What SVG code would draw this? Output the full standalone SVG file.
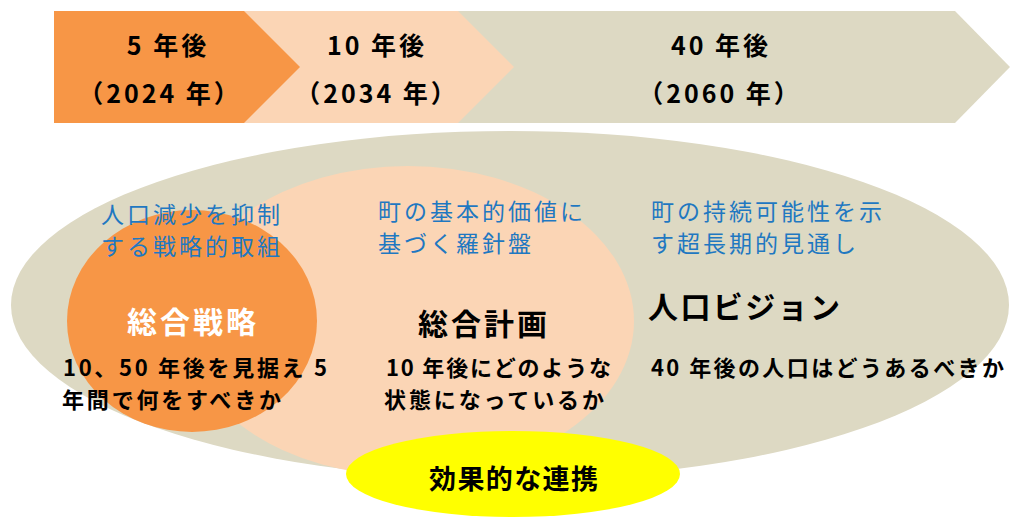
<svg xmlns="http://www.w3.org/2000/svg" width="1011" height="518" viewBox="0 0 1011 518">
<style>
text{font-family:"Noto Sans CJK JP","Noto Sans",sans-serif;}
.yr{font-size:25px;font-weight:700;fill:#000;text-anchor:middle;letter-spacing:3px;}
.blue{font-size:23px;font-weight:400;fill:#1F78C1;letter-spacing:3px;}
.ttl{font-size:30px;font-weight:700;}
.q{font-size:22px;font-weight:700;fill:#000;}
</style>
<rect width="1011" height="518" fill="#fff"/>
<g id="timeline">
<polygon points="54,11 955,11 1010,67 955,123 54,123" fill="#DDD9C3"/>
<polygon points="150,11 458,11 514,67 458,123 150,123" fill="#FBD5B5"/>
<polygon points="54,11 244,11 300,67 244,123 54,123" fill="#F79646"/>
<text class="yr" x="168" y="55">5 年後</text>
<text class="yr" x="160" y="103">（2024 年）</text>
<text class="yr" x="377" y="55">10 年後</text>
<text class="yr" x="377" y="103">（2034 年）</text>
<text class="yr" x="721" y="55">40 年後</text>
<text class="yr" x="720" y="103">（2060 年）</text>
</g>
<g id="vision">
<ellipse cx="510" cy="305" rx="499" ry="174" fill="#DDD9C3"/>
</g>
<g id="plan">
<ellipse cx="408" cy="321" rx="226" ry="155" fill="#FBD5B5"/>
</g>
<g id="strategy">
<ellipse cx="192" cy="321" rx="125" ry="111" fill="#F79646"/>
</g>
<g id="connectors"></g>
<g id="labels">
<text class="blue" x="101" y="223">人口減少を抑制</text>
<text class="blue" x="101" y="255">する戦略的取組</text>
<text class="blue" x="378" y="220">町の基本的価値に</text>
<text class="blue" x="378" y="252">基づく羅針盤</text>
<text class="blue" x="651" y="220">町の持続可能性を示</text>
<text class="blue" x="651" y="252">す超長期的見通し</text>
<text class="ttl" x="127" y="333" fill="#fff" textLength="129" lengthAdjust="spacing">総合戦略</text>
<text class="ttl" x="418" y="335" fill="#000" textLength="129" lengthAdjust="spacing">総合計画</text>
<text class="ttl" x="648" y="318" fill="#000" textLength="192" lengthAdjust="spacing">人口ビジョン</text>
<text class="q" x="63" y="376" textLength="264" lengthAdjust="spacing">10、50 年後を見据え 5</text>
<text class="q" x="62" y="408" textLength="219" lengthAdjust="spacing">年間で何をすべきか</text>
<text class="q" x="386" y="376" textLength="225" lengthAdjust="spacing">10 年後にどのような</text>
<text class="q" x="384" y="408" textLength="220" lengthAdjust="spacing">状態になっているか</text>
<text class="q" x="651" y="376" textLength="353" lengthAdjust="spacing">40 年後の人口はどうあるべきか</text>
</g>
<g id="cooperation">
<ellipse cx="513" cy="474" rx="167" ry="43" fill="#FFFF00"/>
<text x="429" y="489" font-size="27" font-weight="700" fill="#000" textLength="169" lengthAdjust="spacing">効果的な連携</text>
</g>
</svg>
